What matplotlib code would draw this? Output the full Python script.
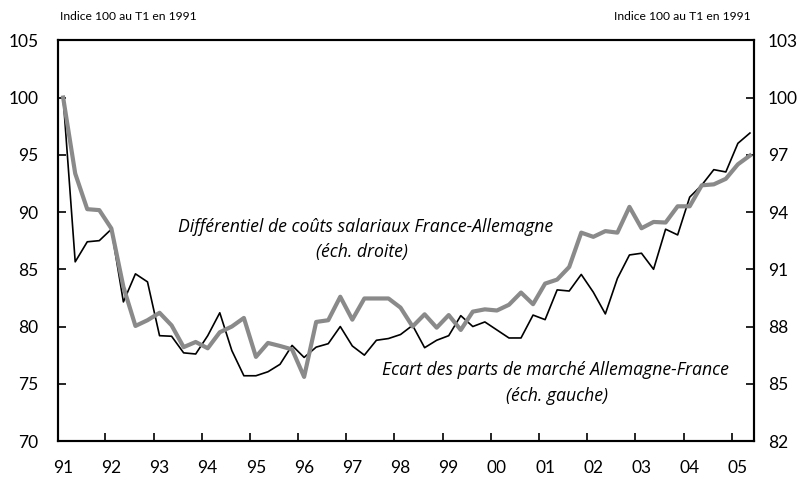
import matplotlib
matplotlib.use("Agg")
import matplotlib.pyplot as plt
import numpy as np

plt.rcParams['font.family'] = ['Lato', 'DejaVu Sans']

# Quarterly data, 1991 Q1 .. 2005 Q2
year_labels = ['91', '92', '93', '94', '95', '96', '97', '98', '99',
               '00', '01', '02', '03', '04', '05']

# Ecart des parts de marché Allemagne-France (left axis)
parts_marche = [100.0, 85.65, 87.4, 87.5, 88.5, 82.15, 84.6, 83.9, 79.2, 79.15,
                77.7, 77.6, 79.2, 81.2, 77.9, 75.7, 75.7, 76.05, 76.7, 78.35,
                77.3, 78.2, 78.5, 80.0, 78.3, 77.5, 78.8, 78.95, 79.3, 80.1,
                78.15, 78.8, 79.2, 80.95, 80.0, 80.4, 79.7, 79.0, 79.0, 81.0,
                80.6, 83.2, 83.1, 84.55, 83.0, 81.1, 84.2, 86.25, 86.4, 85.0,
                88.5, 88.0, 91.3, 92.35, 93.7, 93.5, 96.0, 96.9]

# Différentiel de coûts salariaux France-Allemagne (right axis)
couts_salariaux = [100.0, 96.02, 94.15, 94.1, 93.14, 90.08, 88.03, 88.33, 88.72, 88.06,
                   86.92, 87.19, 86.86, 87.7, 88.0, 88.45, 86.41, 87.14, 86.98, 86.8,
                   85.36, 88.24, 88.33, 89.56, 88.36, 89.47, 89.47, 89.47, 88.99, 88.0,
                   88.64, 87.94, 88.6, 87.82, 88.78, 88.9, 88.84, 89.14, 89.78, 89.17,
                   90.25, 90.46, 91.12, 92.92, 92.7, 93.0, 92.92, 94.27, 93.15, 93.48,
                   93.45, 94.3, 94.3, 95.4, 95.45, 95.74, 96.5, 96.96]

x = np.arange(len(parts_marche))

fig = plt.figure(figsize=(8.04, 4.79), dpi=100)
ax = fig.add_axes([0.0718, 0.0793, 0.8662, 0.8366])
ax2 = ax.twinx()

ax.plot(x, parts_marche, color='black', lw=1.2, zorder=3)
ax2.plot(x, couts_salariaux, color='#8a8a8a', lw=3.0, zorder=3)

ax.set_xlim(-0.45, 57.35)
ax.set_ylim(70, 105)
ax2.set_ylim(82, 103)

ax.set_yticks(np.arange(70, 106, 5))
ax2.set_yticks(np.arange(82, 104, 3))

# tick marks at year boundaries, labels at Q1
ax.set_xticks(np.arange(3.5, 57, 4))
ax.set_xticklabels([])
ax.set_xticks(np.arange(0, 57, 4), minor=True)
ax.set_xticklabels(year_labels, minor=True)
ax.tick_params(axis='x', which='minor', length=0, pad=14, labelsize=12.5)
ax.tick_params(axis='x', which='major', direction='in', length=6, width=1.2)
ax.tick_params(axis='y', direction='in', length=6, width=1.2, pad=14, labelsize=12.5)
ax2.tick_params(axis='y', direction='in', length=6, width=1.2, pad=10, labelsize=12.5)

for a in (ax, ax2):
    for s in a.spines.values():
        s.set_linewidth(1.5)

fig.text(60 / 804, 1 - 17 / 479, 'Indice 100 au T1 en 1991', fontsize=8.7,
         ha='left', va='center')
fig.text(751 / 804, 1 - 17 / 479, 'Indice 100 au T1 en 1991', fontsize=8.7,
         ha='right', va='center')

note_font = ['Open Sans', 'DejaVu Sans']
fig.text(366 / 804, 1 - 227 / 479, 'Différentiel de coûts salariaux France-Allemagne',
         fontsize=12.7, style='italic', family=note_font, ha='center', va='center')
fig.text(362 / 804, 1 - 252 / 479, '(éch. droite)',
         fontsize=12.7, style='italic', family=note_font, ha='center', va='center')
fig.text(555 / 804, 1 - 370 / 479, 'Ecart des parts de marché Allemagne-France',
         fontsize=12.7, style='italic', family=note_font, ha='center', va='center')
fig.text(557 / 804, 1 - 396 / 479, '(éch. gauche)',
         fontsize=12.7, style='italic', family=note_font, ha='center', va='center')

fig.savefig('out.png', dpi=100)
